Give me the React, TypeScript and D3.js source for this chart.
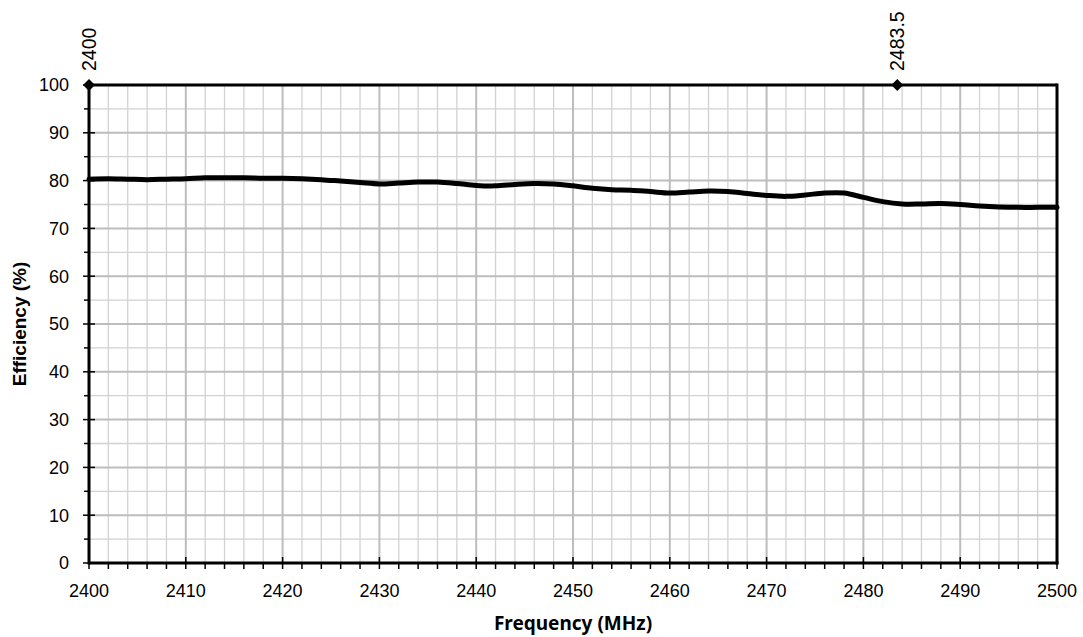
import React from "react";
import * as d3 from "d3";

// Measured radiated efficiency across the 2.4 GHz ISM band
const frequencies = [
  2400, 2402, 2404, 2406, 2408, 2410, 2412, 2414, 2416, 2418, 2420, 2422, 2424,
  2426, 2428, 2430, 2432, 2434, 2436, 2438, 2440, 2442, 2444, 2446, 2448, 2450,
  2452, 2454, 2456, 2458, 2460, 2462, 2464, 2466, 2468, 2470, 2472, 2474, 2476,
  2478, 2480, 2482, 2484, 2486, 2488, 2490, 2492, 2494, 2496, 2498, 2500,
];
const efficiency = [
  80.3, 80.4, 80.3, 80.2, 80.3, 80.4, 80.6, 80.6, 80.6, 80.5, 80.5, 80.4, 80.2,
  79.9, 79.6, 79.3, 79.5, 79.7, 79.7, 79.4, 79.0, 78.9, 79.2, 79.4, 79.3, 78.9,
  78.4, 78.1, 78.0, 77.7, 77.4, 77.6, 77.8, 77.7, 77.3, 76.9, 76.7, 77.0, 77.4,
  77.4, 76.5, 75.6, 75.1, 75.1, 75.2, 75.0, 74.7, 74.5, 74.4, 74.4, 74.4,
];

// Band edge markers placed on the top border
const bandEdges = [2400, 2483.5];
const bandEdgeLabels = ["2400", "2483.5"];

const xMajorTicks = d3.range(2400, 2501, 10);
const xMinorTicks = d3.range(2400, 2501, 2);
const yMajorTicks = d3.range(0, 101, 10);
const yMinorTicks = d3.range(0, 101, 5);

const W = 1083;
const H = 637;
const left = 89;
const right = 1057;
const top = 85;
const bottom = 563;

export default function App() {
  const x = d3.scaleLinear().domain([2400, 2500]).range([left, right]);
  const y = d3.scaleLinear().domain([0, 100]).range([bottom, top]);

  const line = d3
    .line<number>()
    .x((_, i) => x(frequencies[i]))
    .y((d) => y(d))
    .curve(d3.curveCatmullRom.alpha(0.5));

  const tickFont = "'Liberation Sans', Arial, sans-serif";

  return (
    <svg
      width={W}
      height={H}
      style={{ position: "absolute", left: 0, top: 0, background: "#fff" }}
    >
      {/* minor grid */}
      <g stroke="#d2d2d2" strokeWidth={1.3}>
        {xMinorTicks
          .filter((v) => v % 10 !== 0)
          .map((v) => (
            <line key={"xm" + v} x1={x(v)} x2={x(v)} y1={top} y2={bottom} />
          ))}
        {yMinorTicks
          .filter((v) => v % 10 !== 0)
          .map((v) => (
            <line key={"ym" + v} x1={left} x2={right} y1={y(v)} y2={y(v)} />
          ))}
      </g>
      {/* major grid */}
      <g stroke="#bdbdbd" strokeWidth={2}>
        {xMajorTicks.map((v) => (
          <line key={"xM" + v} x1={x(v)} x2={x(v)} y1={top} y2={bottom} />
        ))}
        {yMajorTicks.map((v) => (
          <line key={"yM" + v} x1={left} x2={right} y1={y(v)} y2={y(v)} />
        ))}
      </g>

      {/* tick marks */}
      <g stroke="#000" strokeWidth={1.5}>
        {yMinorTicks.map((v) => (
          <line
            key={"yt" + v}
            x1={v % 10 === 0 ? left - 6 : left - 5}
            x2={v % 10 === 0 ? left + 6 : left}
            y1={y(v)}
            y2={y(v)}
          />
        ))}
        {xMinorTicks.map((v) => (
          <line
            key={"xt" + v}
            x1={x(v)}
            x2={x(v)}
            y1={v % 10 === 0 ? bottom - 6 : bottom}
            y2={bottom + 6}
          />
        ))}
      </g>

      {/* plot frame */}
      <g stroke="#000" strokeWidth={3} fill="none">
        <line x1={left} x2={right} y1={top} y2={top} />
        <line x1={right} x2={right} y1={top - 1.5} y2={bottom + 1.5} />
        <line x1={left} x2={right + 1.5} y1={bottom} y2={bottom} />
        <line x1={left} x2={left} y1={top - 1.5} y2={bottom + 1.5} />
      </g>

      {/* efficiency curve */}
      <path
        d={line(efficiency) ?? ""}
        fill="none"
        stroke="#000"
        strokeWidth={5}
        strokeLinejoin="round"
        strokeLinecap="round"
      />

      {/* band edge markers */}
      {bandEdges.map((f, i) => (
        <g key={"be" + f}>
          <path
            d={d3.symbol(d3.symbolDiamond2, 90)() ?? ""}
            transform={`translate(${x(f)},${top})`}
            fill="#000"
          />
          <text
            transform={`translate(${x(f) + 7},${top - 14}) rotate(-90)`}
            fontFamily={tickFont}
            fontSize={19.5}
            fill="#000"
          >
            {bandEdgeLabels[i]}
          </text>
        </g>
      ))}

      {/* y tick labels */}
      {yMajorTicks.map((v) => (
        <text
          key={"yl" + v}
          x={69}
          y={y(v)}
          dy="0.36em"
          textAnchor="end"
          fontFamily={tickFont}
          fontSize={18}
          fill="#000"
        >
          {v}
        </text>
      ))}

      {/* x tick labels */}
      {xMajorTicks.map((v) => (
        <text
          key={"xl" + v}
          x={x(v)}
          y={597}
          textAnchor="middle"
          fontFamily={tickFont}
          fontSize={18}
          fill="#000"
        >
          {v}
        </text>
      ))}

      {/* axis titles */}
      <text
        x={(left + right) / 2}
        y={630}
        textAnchor="middle"
        fontFamily="'Noto Sans', sans-serif"
        fontWeight="bold"
        fontSize={19}
        fill="#000"
      >
        Frequency (MHz)
      </text>
      <text
        transform={`translate(26,${(top + bottom) / 2}) rotate(-90)`}
        textAnchor="middle"
        fontFamily={tickFont}
        fontWeight="bold"
        fontSize={19}
        fill="#000"
      >
        Efficiency (%)
      </text>
    </svg>
  );
}
